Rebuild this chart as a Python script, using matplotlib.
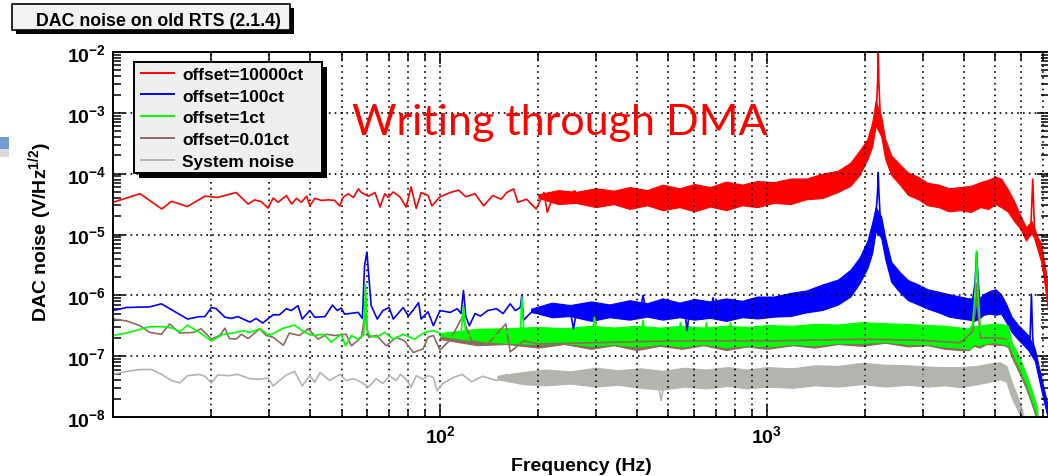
import numpy as np
import matplotlib.pyplot as plt
from matplotlib.patches import Rectangle
from matplotlib.lines import Line2D
from matplotlib.ticker import LogLocator, NullFormatter

plt.rcParams['font.family'] = ['Liberation Sans', 'DejaVu Sans']
plt.rcParams['font.weight'] = 'bold'
plt.rcParams['axes.labelweight'] = 'bold'
plt.rcParams['mathtext.fontset'] = 'custom'
plt.rcParams['mathtext.rm'] = 'Liberation Sans:bold'
plt.rcParams['mathtext.it'] = 'Liberation Sans:bold'
plt.rcParams['mathtext.bf'] = 'Liberation Sans:bold'
plt.rcParams['mathtext.default'] = 'rm'

# all values are log10 of the noise (V/Hz^1/2)
# *_f/*_e : thin trace (low frequency part, peaks, path through the dense band)
# *_bf/*_lo/*_hi : envelope of the dense high frequency part
red_f = [10, 12.1, 14.1, 15.1, 16.9, 19.1, 20.9, 23.8, 25.9, 27.1, 28.4, 29.8,
         30.9, 32.0, 33.9, 35.2, 36.4, 37.7, 39.1, 40.0, 41.4, 43.4, 45.6, 47.6,
         49.4, 50.5, 52.4, 54.4, 56.3, 57.5, 60.4, 63.3, 65.6, 67.8, 69.5, 72.0,
         75.7, 78.8, 81.6, 84.6, 87.6, 92.0, 94.5, 100, 107.5, 114, 120, 128,
         136, 145, 154, 160, 168, 173, 184, 197, 208, 213, 223, 240, 258, 275,
         288, 350, 450, 600, 800, 1000, 1300, 1600, 1850, 2000, 2100, 2160,
         2180, 2190, 2200, 2220, 2270, 2350, 2500, 2800, 3200, 3900, 4700, 5150,
         5500, 5900, 6225, 6420, 6500, 6580, 6700, 6900, 7100, 7300]
red_e = [-4.47, -4.33, -4.58, -4.455, -4.54, -4.37, -4.39, -4.31, -4.50, -4.43,
         -4.46, -4.565, -4.40, -4.47, -4.36, -4.50, -4.405, -4.47, -4.37, -4.53,
         -4.405, -4.44, -4.43, -4.44, -4.53, -4.39, -4.33, -4.39, -4.25, -4.31,
         -4.37, -4.31, -4.55, -4.33, -4.39, -4.30, -4.39, -4.55, -4.22, -4.57,
         -4.31, -4.36, -4.53, -4.38, -4.31, -4.27, -4.38, -4.33, -4.53, -4.36,
         -4.42, -4.31, -4.25, -4.47, -4.42, -4.58, -4.31, -4.635, -4.33, -4.44,
         -4.28, -4.50, -4.31, -4.40, -4.38, -4.35, -4.33, -4.30, -4.24, -4.15,
         -3.98, -3.75, -3.40, -3.0, -2.5, -1.97, -2.5, -3.0, -3.4, -3.75, -3.95,
         -4.15, -4.33, -4.43, -4.35, -4.25, -4.48, -4.78, -5.0, -4.85, -4.09,
         -4.9, -5.12, -5.3, -5.8, -6.3]
red_bf = [200, 230, 260, 300, 340, 380, 430, 480, 540, 600, 670, 750, 840, 935,
          1050, 1180, 1320, 1480, 1650, 1800, 1920, 2030, 2100, 2150, 2235, 2300,
          2400, 2550, 2700, 2900, 3100, 3350, 3600, 3900, 4200, 4500, 4750, 5000,
          5200, 5450, 5700, 5950, 6200, 6350, 6450, 6560, 6700, 6900, 7100, 7290]
red_lo = [-4.40, -4.50, -4.48, -4.55, -4.50, -4.58, -4.52, -4.60, -4.55, -4.62,
          -4.54, -4.60, -4.52, -4.55, -4.48, -4.50, -4.42, -4.40, -4.30, -4.20,
          -4.02, -3.76, -3.55, -3.21, -3.38, -3.76, -4.02, -4.18, -4.35, -4.42,
          -4.52, -4.55, -4.62, -4.60, -4.63, -4.55, -4.58, -4.50, -4.55, -4.62,
          -4.78, -4.90, -5.10, -5.02, -4.98, -5.05, -5.22, -5.45, -5.85, -6.25]
red_hi = [-4.34, -4.27, -4.30, -4.24, -4.28, -4.22, -4.27, -4.18, -4.24, -4.17,
          -4.22, -4.13, -4.18, -4.12, -4.14, -4.08, -4.08, -4.00, -3.95, -3.82,
          -3.62, -3.43, -3.15, -2.80, -3.05, -3.43, -3.70, -3.85, -3.98, -4.05,
          -4.15, -4.18, -4.24, -4.22, -4.20, -4.14, -4.10, -4.05, -4.08, -4.25,
          -4.45, -4.68, -4.88, -4.82, -4.78, -4.88, -5.02, -5.15, -5.55, -6.00]

blue_f = [10, 11.0, 12.95, 14.06, 15.25, 16.9, 18.4, 19.1, 20.0, 20.7, 22.0, 23.0,
          24.1, 26.2, 27.4, 28.7, 30.9, 32.3, 33.9, 35.1, 36.8, 37.9, 40.0, 41.4,
          44.5, 46.9, 48.5, 49.9, 51.1, 56.2, 57.9, 58.8, 59.8, 60.7, 61.6, 64.3,
          66.9, 69.9, 72.0, 77.2, 80.0, 82.9, 86.0, 87.6, 91.9, 95.5, 100, 107.5,
          113, 116, 118, 120, 123, 128, 133, 140, 149, 156, 164, 170, 176, 178,
          180, 190, 204, 250, 256, 262, 300, 381, 410, 418, 426, 482, 560, 570,
          580, 675, 684, 693, 867, 1000, 1300, 1600, 1850, 2000, 2100, 2160, 2180,
          2190, 2200, 2220, 2270, 2350, 2500, 2800, 3200, 3900, 4250, 4330, 4380,
          4430, 4500, 4950, 5157, 5600, 6225, 6380, 6440, 6500, 6600, 6920, 7300]
blue_e = [-6.25, -6.20, -6.19, -6.14, -6.25, -6.39, -6.35, -6.35, -6.20, -6.22,
          -6.36, -6.38, -6.35, -6.44, -6.38, -6.455, -6.32, -6.32, -6.22, -6.25,
          -6.17, -6.39, -6.25, -6.36, -6.35, -6.16, -6.25, -6.21, -6.31, -6.28,
          -6.38, -5.51, -5.29, -5.74, -6.17, -6.39, -6.25, -6.20, -6.39, -6.20,
          -6.34, -6.24, -6.12, -6.39, -6.27, -6.50, -6.25, -6.28, -6.22, -6.30,
          -5.92, -6.35, -6.50, -6.30, -6.34, -6.25, -6.22, -6.30, -6.14, -6.25,
          -6.20, -6.0, -6.41, -6.28, -6.29, -6.25, -6.55, -6.25, -6.28, -6.26,
          -6.24, -6.0, -6.24, -6.24, -6.24, -6.58, -6.24, -6.22, -6.04, -6.22,
          -6.22, -6.2, -6.1, -5.95, -5.75, -5.45, -5.0, -4.6, -4.3, -3.98, -4.3,
          -4.7, -5.12, -5.4, -5.7, -5.95, -6.08, -6.2, -6.1, -5.8, -5.29, -5.8,
          -6.2, -6.15, -6.14, -6.5, -6.75, -6.7, -5.98, -6.7, -7.0, -7.5, -8.05]
blue_bf = [190, 220, 250, 290, 330, 380, 430, 480, 540, 600, 670, 750, 840, 935,
           1050, 1180, 1320, 1480, 1650, 1800, 1920, 2030, 2100, 2150, 2235, 2300,
           2400, 2550, 2700, 2900, 3100, 3350, 3600, 3900, 4150, 4300, 4460, 4600,
           4800, 5000, 5200, 5400, 5600, 5850, 6100, 6300, 6600, 6900, 7290]
blue_lo = [-6.27, -6.36, -6.34, -6.42, -6.36, -6.40, -6.35, -6.40, -6.36, -6.40,
           -6.37, -6.42, -6.36, -6.38, -6.35, -6.34, -6.28, -6.24, -6.15, -6.02,
           -5.80, -5.55, -5.30, -4.95, -5.05, -5.40, -5.78, -5.95, -6.08, -6.15,
           -6.22, -6.28, -6.35, -6.38, -6.40, -6.42, -6.38, -6.32, -6.30, -6.32,
           -6.30, -6.45, -6.60, -6.72, -6.82, -6.90, -7.08, -7.55, -8.10]
blue_hi = [-6.22, -6.12, -6.16, -6.10, -6.15, -6.08, -6.13, -6.05, -6.12, -6.06,
           -6.10, -6.05, -6.09, -6.02, -6.02, -5.96, -5.92, -5.82, -5.74, -5.58,
           -5.38, -5.10, -4.80, -4.55, -4.70, -5.05, -5.45, -5.62, -5.75, -5.82,
           -5.90, -5.94, -5.98, -6.02, -6.05, -6.05, -6.05, -5.98, -5.93, -5.90,
           -5.98, -6.15, -6.35, -6.48, -6.58, -6.66, -6.88, -7.35, -7.90]

green_f = [10, 11, 12.95, 14.2, 15.25, 16.0, 16.9, 18.4, 20.0, 21.7, 23.3, 25.0,
           26.2, 28.1, 30.1, 33.2, 35.9, 38.6, 40.9, 44.0, 46.5, 48.5, 49.9, 51.4,
           53.6, 56.2, 57.9, 58.5, 59.2, 60.0, 61.0, 63.8, 67.8, 72.0, 77.2, 83.5,
           89.8, 95.5, 100, 108, 114, 116, 118, 120, 130, 140, 149, 160, 170, 176,
           178, 181, 190, 204, 240, 292, 297, 302, 350, 412, 418, 424, 535, 544,
           553, 643, 653, 663, 762, 774, 786, 1000, 1500, 2000, 3000, 3900, 4250,
           4330, 4380, 4430, 4500, 4950, 5400, 5600, 6225, 6710, 6900]
green_e = [-6.66, -6.62, -6.515, -6.515, -6.54, -6.60, -6.49, -6.61, -6.75, -6.64,
           -6.62, -6.58, -6.61, -6.55, -6.66, -6.54, -6.49, -6.61, -6.66, -6.64,
           -6.77, -6.69, -6.64, -6.83, -6.66, -6.72, -6.66, -6.66, -5.82, -6.60,
           -6.66, -6.69, -6.61, -6.72, -6.64, -6.72, -6.61, -6.58, -6.62, -6.70,
           -6.60, -6.64, -6.17, -6.68, -6.62, -6.70, -6.66, -6.60, -6.72, -6.66,
           -6.03, -6.68, -6.62, -6.68, -6.66, -6.66, -6.36, -6.66, -6.66, -6.66,
           -6.41, -6.66, -6.66, -6.45, -6.66, -6.66, -6.45, -6.66, -6.66, -6.45,
           -6.66, -6.66, -6.64, -6.62, -6.64, -6.70, -6.5, -6.0, -5.27, -6.0,
           -6.6, -6.62, -6.65, -6.88, -7.43, -7.95, -8.2]
green_bf = [100, 130, 160, 200, 240, 290, 340, 400, 470, 550, 640, 750, 870, 1000,
            1200, 1400, 1650, 1950, 2300, 2700, 3100, 3500, 3900, 4150, 4300, 4460,
            4700, 5000, 5300, 5460, 5600, 5800, 6000, 6225, 6450, 6710]
green_lo = [-6.66, -6.75, -6.78, -6.80, -6.78, -6.83, -6.80, -6.84, -6.80, -6.84,
            -6.80, -6.85, -6.82, -6.84, -6.80, -6.82, -6.78, -6.78, -6.76, -6.80,
            -6.80, -6.84, -6.86, -6.88, -6.80, -6.82, -6.78, -6.77, -6.80, -6.82,
            -6.98, -7.15, -7.32, -7.52, -7.75, -8.05]
green_hi = [-6.62, -6.55, -6.54, -6.52, -6.54, -6.50, -6.53, -6.50, -6.53, -6.50,
            -6.53, -6.50, -6.52, -6.49, -6.50, -6.47, -6.48, -6.44, -6.46, -6.47,
            -6.49, -6.50, -6.53, -6.55, -6.50, -6.50, -6.48, -6.46, -6.48, -6.50,
            -6.76, -6.92, -7.10, -7.32, -7.55, -7.85]

brown_f = [10, 11, 12.1, 12.95, 14.06, 14.9, 16.0, 17.6, 18.6, 20.0, 21.2, 22.0,
           22.7, 23.8, 24.7, 25.9, 28.1, 29.4, 30.9, 33.2, 34.6, 37.2, 39.5, 42.4,
           45.0, 47.6, 51.7, 53.6, 57.5, 59.0, 60.5, 64, 68.5, 73.5, 78, 82.9, 88.8,
           91.9, 95.5, 100, 108, 117, 125, 140, 159, 164, 180, 200, 500, 1000,
           2000, 3000, 3900, 4250, 4350, 4380, 4410, 4500, 5000, 5460, 5600, 6225,
           6710, 6900]
brown_e = [-6.39, -6.42, -6.50, -6.61, -6.64, -6.47, -6.62, -6.61, -6.55, -6.72,
           -6.66, -6.54, -6.71, -6.72, -6.64, -6.71, -6.55, -6.66, -6.69, -6.82,
           -6.62, -6.66, -6.55, -6.72, -6.64, -6.66, -6.64, -6.83, -6.69, -6.3,
           -6.69, -6.66, -6.83, -6.69, -6.75, -6.94, -6.88, -6.69, -6.66, -6.9,
           -6.72, -6.35, -6.75, -6.80, -6.47, -6.93, -6.75, -6.8, -6.75, -6.75,
           -6.72, -6.74, -6.78, -6.6, -6.2, -5.8, -6.2, -6.7, -6.70, -6.72, -6.95,
           -7.5, -8.0, -8.2]
# brown sits mostly under the green band, only its deep dips show below it
brown_bf = [100, 130, 160, 200, 240, 290, 340, 400, 470, 550, 640, 750, 870, 1000,
            1200, 1400, 1650, 1950, 2300, 2700, 3100, 3500, 3900, 4150, 4300, 4460,
            4700, 5000, 5300, 5460, 5600, 5800, 6000, 6225, 6450, 6710]
brown_lo = [-6.72, -6.82, -6.80, -6.86, -6.80, -6.88, -6.82, -6.90, -6.83, -6.88,
            -6.82, -6.90, -6.84, -6.88, -6.82, -6.86, -6.80, -6.83, -6.78, -6.84,
            -6.82, -6.88, -6.90, -6.90, -6.83, -6.86, -6.80, -6.81, -6.82, -6.85,
            -7.01, -7.18, -7.35, -7.55, -7.78, -8.08]
brown_hi = [-6.68, -6.62, -6.60, -6.58, -6.60, -6.56, -6.59, -6.56, -6.59, -6.56,
            -6.59, -6.56, -6.58, -6.55, -6.56, -6.53, -6.54, -6.50, -6.52, -6.53,
            -6.55, -6.56, -6.59, -6.61, -6.56, -6.56, -6.54, -6.52, -6.54, -6.56,
            -6.82, -6.98, -7.16, -7.38, -7.61, -7.90]

gray_f = [10, 11, 12.1, 13.1, 14.1, 15.1, 16.0, 16.9, 18.4, 19.1, 20.0, 20.9, 22.5,
          24.1, 26.2, 28.1, 29.8, 30.9, 32.3, 33.9, 35.9, 37.9, 40.0, 41.4, 43.0,
          46.0, 49.4, 51.7, 54.4, 57.5, 60.4, 63.8, 66.9, 70.1, 73.5, 75.7, 78.8,
          81.6, 84.6, 88.8, 91.9, 95.5, 98, 102, 110, 117, 125, 135, 149, 160, 175,
          190, 204, 300, 400, 462, 475, 488, 1000, 2000, 3000, 5157, 5460, 5600,
          6050, 6300]
gray_e = [-7.30, -7.25, -7.22, -7.22, -7.30, -7.40, -7.44, -7.32, -7.30, -7.33,
          -7.44, -7.31, -7.32, -7.30, -7.37, -7.38, -7.36, -7.49, -7.40, -7.31,
          -7.25, -7.49, -7.32, -7.43, -7.27, -7.40, -7.30, -7.40, -7.37, -7.43,
          -7.51, -7.37, -7.45, -7.32, -7.40, -7.30, -7.38, -7.51, -7.32, -7.38,
          -7.32, -7.35, -7.57, -7.45, -7.35, -7.30, -7.42, -7.33, -7.40, -7.30,
          -7.45, -7.35, -7.36, -7.34, -7.36, -7.36, -7.73, -7.36, -7.36, -7.30,
          -7.32, -7.24, -7.3, -7.57, -7.95, -8.1]
gray_bf = [150, 180, 210, 250, 300, 350, 410, 480, 560, 650, 760, 870, 1000, 1200,
           1400, 1650, 1950, 2300, 2700, 3100, 3500, 3900, 4400, 4800, 5157, 5400,
           5600, 5800, 6050]
gray_lo = [-7.38, -7.46, -7.48, -7.45, -7.50, -7.47, -7.52, -7.55, -7.50, -7.53,
           -7.49, -7.53, -7.50, -7.52, -7.48, -7.50, -7.46, -7.50, -7.47, -7.50,
           -7.48, -7.51, -7.46, -7.42, -7.38, -7.42, -7.68, -7.85, -8.05]
gray_hi = [-7.32, -7.26, -7.22, -7.25, -7.19, -7.23, -7.20, -7.24, -7.19, -7.22,
           -7.18, -7.22, -7.18, -7.20, -7.15, -7.16, -7.11, -7.14, -7.15, -7.17,
           -7.18, -7.18, -7.16, -7.12, -7.10, -7.16, -7.42, -7.62, -7.90]

labels = ['offset=10000ct', 'offset=100ct', 'offset=1ct', 'offset=0.01ct',
          'System noise']
colors = ['#ff0000', '#0000ff', '#00ff00', '#8c6b5c', '#b1b5ad']


def draw(ax, f, e, bf, lo, hi, color):
    ax.fill_between(bf, 10.0 ** np.array(lo), 10.0 ** np.array(hi),
                    color=color, lw=0.8)
    ax.plot(f, 10.0 ** np.array(e), color=color, lw=1.2)


def px_box(x0, y0, x1, y1):
    # slide layout box given in pixels from the top left corner
    return (x0 / 1048, 1 - y1 / 477), (x1 - x0) / 1048, (y1 - y0) / 477


fig = plt.figure(figsize=(10.48, 4.77), dpi=100)
ax = fig.add_axes([113 / 1048, 59 / 477, 936 / 1048, 365 / 477])
ax.set_xscale('log')
ax.set_yscale('log')

draw(ax, red_f, red_e, red_bf, red_lo, red_hi, colors[0])
draw(ax, blue_f, blue_e, blue_bf, blue_lo, blue_hi, colors[1])
draw(ax, brown_f, brown_e, brown_bf, brown_lo, brown_hi, colors[3])
draw(ax, green_f, green_e, green_bf, green_lo, green_hi, colors[2])
draw(ax, gray_f, gray_e, gray_bf, gray_lo, gray_hi, colors[4])

ax.set_xlim(10, 7290)
ax.set_ylim(1e-8, 1e-2)
ax.set_xticks([100, 1000])
ax.xaxis.set_minor_locator(LogLocator(base=10, subs=np.arange(2, 10)))
ax.xaxis.set_minor_formatter(NullFormatter())
ax.set_yticks([10.0 ** k for k in range(-8, -1)])
ax.yaxis.set_minor_locator(LogLocator(base=10, subs=np.arange(2, 10), numticks=20))
ax.yaxis.set_minor_formatter(NullFormatter())
ax.tick_params(which='both', direction='in', top=True, right=True, width=1.1)
ax.tick_params(which='major', length=8.5, labelsize=14, pad=5)
ax.tick_params(which='minor', length=5.5)
ax.grid(True, which='major', color='k', ls=(0, (1, 2.5)), lw=1.2)
ax.grid(True, which='minor', axis='x', color='k', ls=(0, (1, 2.5)), lw=1.2)
for sp in ax.spines.values():
    sp.set_linewidth(1.4)

ax.set_xlabel('Frequency (Hz)', fontsize=14, labelpad=8)
ax.set_ylabel('DAC noise (V/Hz$^{1/2}$)', fontsize=14)
ax.yaxis.set_label_coords(-0.063, 0.51)

ax.text((352 - 113) / 936, (418 - 135) / 365, 'Writing through DMA',
        transform=ax.transAxes, color='#ff0000', fontsize=31,
        family=['Lato', 'DejaVu Sans'], fontweight='normal', va='baseline')

# legend: frame and solid shadow drawn by hand, entries by the legend
xy, w, h = px_box(139, 68, 327, 179)
ax.add_patch(Rectangle(xy, w, h, transform=fig.transFigure, fc='k', ec='none',
                       zorder=9, clip_on=False))
xy, w, h = px_box(134, 63, 322, 174)
ax.add_patch(Rectangle(xy, w, h, transform=fig.transFigure, fc='#efefef',
                       ec='k', lw=1.4, zorder=9.5, clip_on=False))
handles = [Line2D([], [], color=c, lw=1.4) for c in colors]
leg = ax.legend(handles, labels, loc='upper left',
                bbox_to_anchor=(138 / 1048, 1 - 64 / 477),
                bbox_transform=fig.transFigure, fontsize=12.5, frameon=False,
                borderpad=0.2, labelspacing=0.39, handlelength=1.9,
                handletextpad=0.45, borderaxespad=0)
leg.set_zorder(10)

# title box of the slide
xy, w, h = px_box(16, 9, 294, 35)
fig.add_artist(Rectangle(xy, w, h, transform=fig.transFigure, fc='k',
                         ec='none', zorder=1))
xy, w, h = px_box(12, 5, 290, 31)
fig.add_artist(Rectangle(xy, w, h, transform=fig.transFigure, fc='#f2f2f2',
                         ec='k', lw=1.2, zorder=2))
fig.text(36 / 1048, 1 - 26 / 477, 'DAC noise on old RTS (2.1.4)', fontsize=12.8,
         va='baseline', zorder=3)

# slide decoration at the left border
xy, w, h = px_box(0, 138, 9, 150)
fig.add_artist(Rectangle(xy, w, h, transform=fig.transFigure, fc='#6e9bd0',
                         ec='none'))
xy, w, h = px_box(0, 150, 9, 158)
fig.add_artist(Rectangle(xy, w, h, transform=fig.transFigure, fc='#dadada',
                         ec='none'))

fig.savefig('out.png', dpi=100)
